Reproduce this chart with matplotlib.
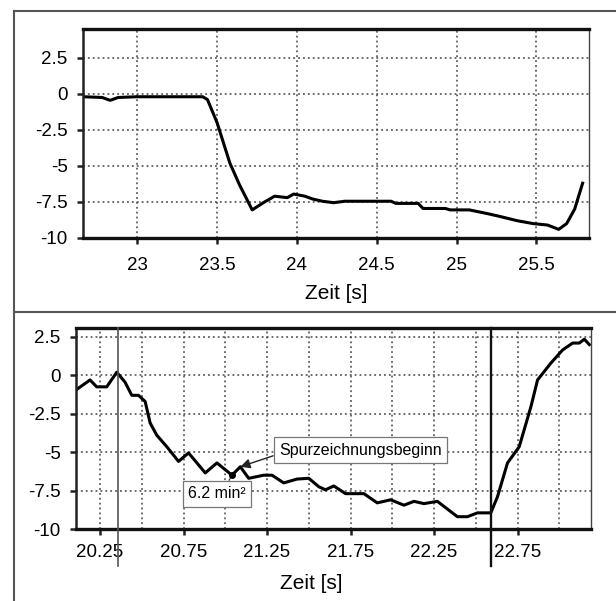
import matplotlib
matplotlib.use("Agg")
import matplotlib.pyplot as plt
from matplotlib.lines import Line2D
from matplotlib.ticker import MultipleLocator
import matplotlib.transforms as mtransforms

plt.rcParams['font.family'] = ['Liberation Sans', 'DejaVu Sans']

# ---------------- data ----------------
top_t = [22.66, 22.78, 22.83, 22.88, 23.00, 23.20, 23.41, 23.44, 23.50, 23.58, 23.64, 23.72,
         23.79, 23.86, 23.94, 23.98, 24.05, 24.10, 24.16, 24.23, 24.30, 24.59, 24.62, 24.76,
         24.79, 24.93, 24.96, 25.08, 25.19, 25.27, 25.38, 25.48, 25.57, 25.64, 25.69, 25.74, 25.79]
top_v = [-0.2, -0.25, -0.45, -0.25, -0.2, -0.2, -0.2, -0.4, -2.0, -4.8, -6.3, -8.05,
         -7.55, -7.1, -7.2, -6.95, -7.1, -7.3, -7.45, -7.55, -7.45, -7.45, -7.6, -7.6,
         -7.95, -7.95, -8.05, -8.05, -8.3, -8.5, -8.8, -9.0, -9.1, -9.4, -9.0, -8.0, -6.2]

bot_t = [20.106, 20.19, 20.23, 20.29, 20.35, 20.40, 20.44, 20.48, 20.52, 20.55, 20.59, 20.65,
         20.72, 20.78, 20.88, 20.95, 21.04, 21.09, 21.14, 21.23, 21.28, 21.35, 21.43, 21.50,
         21.56, 21.60, 21.65, 21.72, 21.83, 21.91, 21.99, 22.07, 22.13, 22.19, 22.27, 22.39,
         22.45, 22.51, 22.59, 22.63, 22.69, 22.76, 22.83, 22.87, 22.95, 23.02, 23.08, 23.12,
         23.15, 23.18]
bot_v = [-0.95, -0.3, -0.75, -0.75, 0.2, -0.45, -1.3, -1.3, -1.7, -3.1, -3.9, -4.65,
         -5.6, -5.05, -6.35, -5.7, -6.5, -5.95, -6.7, -6.5, -6.5, -7.0, -6.75, -6.7,
         -7.25, -7.45, -7.2, -7.7, -7.7, -8.3, -8.1, -8.45, -8.2, -8.35, -8.2, -9.2,
         -9.2, -8.95, -8.95, -7.9, -5.7, -4.65, -2.05, -0.3, 0.8, 1.65, 2.1, 2.1,
         2.35, 2.0]

bot_markers = [20.358, 22.594]
label_start = "Spurzeichnungsbeginn"
start_point = (21.09, -5.95)
start_box = (21.81, -4.86)
label_area = "6.2 min\u00b2"
area_point = (21.04, -6.5)
area_box = (20.95, -7.72)

y_ticks = [-10, -7.5, -5, -2.5, 0, 2.5]
y_tick_labels = ["-10", "-7.5", "-5", "-2.5", "0", "2.5"]
top_x_ticks = [23, 23.5, 24, 24.5, 25, 25.5]
top_x_labels = ["23", "23.5", "24", "24.5", "25", "25.5"]
bot_x_ticks = [20.25, 20.75, 21.25, 21.75, 22.25, 22.75]
bot_x_labels = ["20.25", "20.75", "21.25", "21.75", "22.25", "22.75"]
xlabel = "Zeit [s]"

# ---------------- figure ----------------
W, H = 616, 601
fig = plt.figure(figsize=(W / 100, H / 100), dpi=100)
fig.patch.set_facecolor("white")


def fpos(l, t, r, b):
    return [l / W, (H - b) / H, (r - l) / W, (b - t) / H]


ax1 = fig.add_axes(fpos(83, 29, 589, 238))
ax2 = fig.add_axes(fpos(76, 328, 591, 529))

grid_kw = dict(color="#444444", linestyle=(0, (1.2, 2.0)), linewidth=1.1)


def style(ax, xpad):
    for s in ["top", "bottom"]:
        ax.spines[s].set_linewidth(2.4)
        ax.spines[s].set_color("#111111")
    ax.spines["left"].set_linewidth(1.8)
    ax.spines["left"].set_color("#222222")
    ax.spines["right"].set_linewidth(1.0)
    ax.spines["right"].set_color("#444444")
    ax.tick_params(axis="both", which="major", direction="out", length=4, width=1.8,
                   color="#222222", labelsize=13.5)
    ax.tick_params(axis="x", pad=xpad)
    ax.tick_params(axis="y", pad=7)
    ax.tick_params(axis="both", which="minor", length=0)
    ax.set_yticks(y_ticks)
    ax.set_yticklabels(y_tick_labels)


# top panel
style(ax1, 9.5)
ax1.set_xlim(22.66, 25.83)
ax1.set_ylim(-10, 4.5)
ax1.set_xticks(top_x_ticks)
ax1.set_xticklabels(top_x_labels)
ax1.grid(True, which="major", **grid_kw)
ax1.set_axisbelow(True)
ax1.plot(top_t, top_v, color="black", linewidth=2.2, solid_joinstyle="round")
ax1.set_xlabel(xlabel, fontsize=15)
ax1.xaxis.set_label_coords(0.5, -0.218)

# bottom panel
style(ax2, 7)
ax2.set_xlim(20.106, 23.19)
ax2.set_ylim(-10, 3.08)
ax2.set_xticks(bot_x_ticks)
ax2.set_xticklabels(bot_x_labels)
ax2.xaxis.set_minor_locator(MultipleLocator(0.25))
ax2.grid(True, which="both", axis="x", **grid_kw)
ax2.grid(True, which="major", axis="y", **grid_kw)
ax2.set_axisbelow(True)
ax2.plot(bot_t, bot_v, color="black", linewidth=2.2, solid_joinstyle="round")
ax2.set_xlabel(xlabel, fontsize=15)
ax2.xaxis.set_label_coords(0.456, -0.222)

trans = mtransforms.blended_transform_factory(ax2.transData, ax2.transAxes)
for xm, col, lw in zip(bot_markers, ["#555555", "#111111"], [1.2, 1.7]):
    ax2.plot([xm, xm], [1.0, -0.184], transform=trans, color=col,
             linewidth=lw, clip_on=False, zorder=3)

box_kw = dict(boxstyle="square,pad=0.35", fc="white", ec="#777777", lw=0.9)
ax2.annotate(label_start, xy=start_point, xytext=start_box, fontsize=11.5,
             ha="center", va="center", bbox=box_kw, zorder=5,
             arrowprops=dict(arrowstyle="-|>,head_length=0.5,head_width=0.25",
                             color="#222222", lw=1.0, shrinkA=0, shrinkB=0,
                             relpos=(0.0, 0.25)))
ax2.annotate(label_area, xy=area_point, xytext=area_box, fontsize=11.5,
             ha="center", va="center", bbox=box_kw, zorder=5,
             arrowprops=dict(arrowstyle="-", color="#444444", lw=0.9,
                             shrinkA=0, shrinkB=0, relpos=(0.65, 1.0)))
ax2.plot([area_point[0]], [area_point[1]], marker="o", markersize=4, color="black", zorder=6)

# outer frame lines
frame_kw = dict(color="#555555", linewidth=1.5, transform=fig.transFigure)
fig.add_artist(Line2D([14 / W, 14 / W], [0, (H - 11) / H], **frame_kw))
fig.add_artist(Line2D([14 / W, 1], [(H - 11) / H, (H - 11) / H], **frame_kw))
fig.add_artist(Line2D([14 / W, 1], [(H - 312) / H, (H - 312) / H], **frame_kw))

fig.savefig("out.png", dpi=100, facecolor="white")
